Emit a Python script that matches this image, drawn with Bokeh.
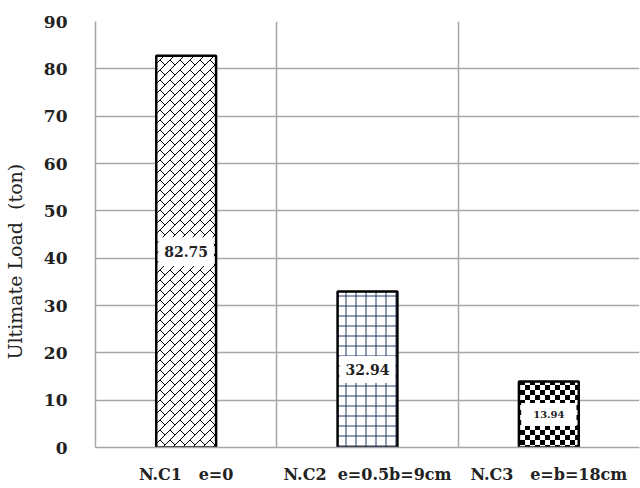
import base64
from bokeh.plotting import figure
from bokeh.models import ColumnDataSource, FixedTicker, Range1d, ImageURLTexture
from bokeh.core.properties import value
from bokeh.embed import file_html
from bokeh.resources import INLINE

# Data
specimens = ["N.C1   e=0", "N.C2  e=0.5b=9cm", "N.C3   e=b=18cm"]
ultimate_load = [82.75, 32.94, 13.94]
load_labels = ["82.75", "32.94", "13.94"]
y_ticks = [0, 10, 20, 30, 40, 50, 60, 70, 80, 90]
y_title = "Ultimate Load  (ton)"

FONT = "DejaVu Serif"
NB = "\u00a0"


def keep_spaces(s):
    return s.replace(" ", NB)


def svg_texture(body, size=10):
    svg = (f'<svg xmlns="http://www.w3.org/2000/svg" width="{size}" height="{size}">'
           f'<rect width="{size}" height="{size}" fill="white"/>{body}</svg>')
    url = "data:image/svg+xml;base64," + base64.b64encode(svg.encode()).decode()
    return ImageURLTexture(url=url)


# diagonal brick weave
brick = svg_texture('<path d="M0 10 L10 0 M-1 1 L1 -1 M9 11 L11 9 M0 0 L5 5" '
                    'stroke="black" stroke-width="1" fill="none"/>')
# small checkerboard
checker = svg_texture('<rect x="0" y="0" width="5" height="5" fill="black"/>'
                      '<rect x="5" y="5" width="5" height="5" fill="black"/>')

xpos = [i + 0.5 for i in range(len(specimens))]

p = figure(width=640, height=488, output_backend="svg", toolbar_location=None,
           x_range=Range1d(0, 3), y_range=Range1d(0, 90),
           min_border_left=95, min_border_right=1, min_border_top=21, min_border_bottom=41)
p.outline_line_color = None
p.background_fill_color = "white"

patterns = ["brick", "+", "chk"]
hcolors = ["black", "#1f3864", "black"]

src = ColumnDataSource(dict(x=xpos, top=ultimate_load, pat=patterns, hc=hcolors,
                            lab=load_labels, ymid=[v / 2 for v in ultimate_load],
                            fs=["14px", "14px", "10px"], bh=[6.1, 5.7, 4.9]))

p.vbar(x="x", top="top", width=0.33, source=src, fill_color="white",
       line_color="black", line_width=2.5, hatch_pattern="pat", hatch_color="hc",
       hatch_scale=10, hatch_weight=1,
       hatch_extra={"brick": brick, "chk": checker})

# value labels in white boxes
p.rect(x="x", y="ymid", width=0.305, height="bh", source=src,
       fill_color="white", line_color=None)
p.text(x="x", y="ymid", text="lab", source=src, text_align="center",
       text_baseline="middle", text_font_size="fs", text_font_style="bold",
       text_font=value(FONT), text_color="#222222")

# axes
p.yaxis.ticker = FixedTicker(ticks=y_ticks)
p.xaxis.ticker = FixedTicker(ticks=xpos)
p.xaxis.major_label_overrides = {x: keep_spaces(s) for x, s in zip(xpos, specimens)}
for ax in (p.xaxis[0], p.yaxis[0]):
    ax.axis_line_color = "#a6a6a6"
    ax.axis_line_width = 1.5
    ax.major_tick_line_color = None
    ax.minor_tick_line_color = None
    ax.major_label_text_font = FONT
    ax.major_label_text_font_style = "bold"
    ax.major_label_text_color = "#222222"
p.yaxis.major_label_standoff = 22
p.yaxis.major_label_text_font_size = "17px"
p.xaxis.major_label_text_font_size = "16px"
p.xaxis.major_label_standoff = 11

# y-axis title; trailing padding lowers the rotated text a little
p.yaxis.axis_label = keep_spaces(y_title) + NB * 9
p.yaxis.axis_label_text_font = FONT
p.yaxis.axis_label_text_font_style = "normal"
p.yaxis.axis_label_text_font_size = "19px"
p.yaxis.axis_label_text_color = "#222222"
p.yaxis.axis_label_standoff = 15

p.ygrid.ticker = FixedTicker(ticks=y_ticks)
p.ygrid.grid_line_color = "#a6a6a6"
p.ygrid.grid_line_width = 1.5
p.xgrid.ticker = FixedTicker(ticks=[1, 2])
p.xgrid.grid_line_color = "#a6a6a6"
p.xgrid.grid_line_width = 1.5

open("out.html", "w").write(file_html(p, INLINE))
